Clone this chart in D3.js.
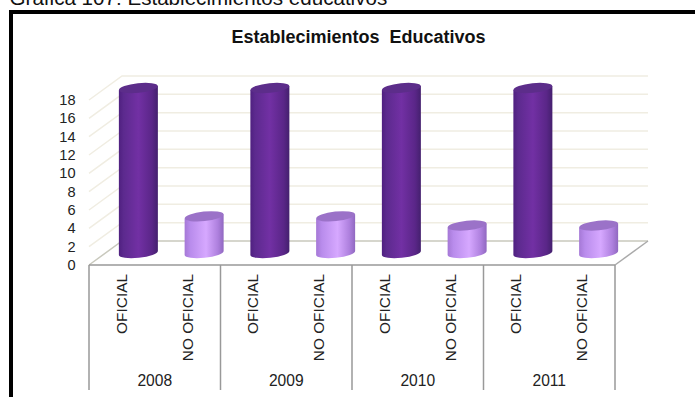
<!DOCTYPE html>
<html><head><meta charset="utf-8">
<script src="https://cdn.jsdelivr.net/npm/d3@7/dist/d3.min.js"></script>
<style>html,body{margin:0;padding:0;background:#fff}svg{display:block}text{font-family:"Liberation Sans",Arial,sans-serif}</style>
</head><body><div id="c"></div>
<script>
const years = ["2008","2009","2010","2011"];
const types = ["OFICIAL","NO OFICIAL"];
const values = [18,4,18,4,18,3,18,3];
const yTicks = [0,2,4,6,8,10,12,14,16,18];
const pageTitle = "Gráfica 107: Establecimientos educativos";
const chartTitle = "Establecimientos  Educativos";

const W=695,H=397;
const svg=d3.select("#c").append("svg").attr("width",W).attr("height",H);
const defs=svg.append("defs");
function grad(id,stops){
  const g=defs.append("linearGradient").attr("id",id);
  stops.forEach(([o,c])=>g.append("stop").attr("offset",o).attr("stop-color",c));
}
grad("dark",[[0,"#4f2080"],[0.12,"#5c2a8e"],[0.5,"#7230a4"],[0.85,"#5a2688"],[1,"#44206e"]]);
grad("light",[[0,"#a578d6"],[0.15,"#b98cec"],[0.55,"#d6a8ff"],[0.85,"#ae80de"],[1,"#9068c0"]]);

svg.append("text").attr("x",9.5).attr("y",5).attr("font-size",20.6).attr("fill","#111").text(pageTitle);
svg.append("rect").attr("x",11).attr("y",12).attr("width",W+20).attr("height",H+20).attr("fill","#fff").attr("stroke","#000").attr("stroke-width",4);
svg.append("text").attr("x",358.5).attr("y",43).attr("text-anchor","middle").attr("font-size",18).attr("font-weight","bold").attr("fill","#111").style("white-space","pre").text(chartTitle);

const x0=89,x1=615,dx=33,dy=24,y0=265,y18=100;
const y=d3.scaleLinear().domain([0,18]).range([y0,y18]);
const x=d3.scaleBand().domain(d3.range(values.length)).range([x0,x1]);
const yearX=d3.scaleBand().domain(years).range([x0,x1]);

// grid
yTicks.forEach(t=>{
  const c=t===0?"#c9c9bd":"#f0ede2";
  svg.append("path").attr("fill","none").attr("stroke",c).attr("stroke-width",1.5)
   .attr("d",`M${x0},${y(t)}L${x0+dx},${y(t)-dy}L${x1+dx},${y(t)-dy}`);
  svg.append("text").attr("x",75.5).attr("y",y(t)+5).attr("text-anchor","end").attr("font-size",14.6).attr("fill","#222").text(t);
});
// floor right edge
svg.append("path").attr("fill","none").attr("stroke","#aaa").attr("stroke-width",1.5).attr("d",`M${x1},${y0}L${x1+dx},${y0-dy}`);

// axis box
const axisG=svg.append("g").attr("stroke","#999").attr("stroke-width",1.5).attr("fill","none");
axisG.append("path").attr("d",`M${x0},${y0}H${x1}`);
years.concat(["end"]).forEach((yr,i)=>{
  const xx=x0+i*yearX.step();
  axisG.append("path").attr("d",`M${xx},${y0}V390`);
});
years.forEach(yr=>{
  svg.append("text").attr("x",yearX(yr)+yearX.bandwidth()/2).attr("y",386).attr("text-anchor","middle").attr("font-size",15.6).attr("fill","#222").text(yr);
});
values.forEach((v,i)=>{
  const cx=x(i)+x.bandwidth()/2;
  const ty=types[i%2];
  svg.append("text").attr("transform",`translate(${cx+5},${y0+9}) rotate(-90)`).attr("text-anchor","end").attr("font-size",15.4).attr("fill","#222").text(ty);
});

// cylinders
const rx=19.5,ry=4.8,tilt=-6;
values.forEach((v,i)=>{
  const cx=x(i)+x.bandwidth()/2+dx/2;
  const base=y(0)-12;
  const top=y(v)-12;
  const dark=i%2===0;
  const g=svg.append("g");
  const tr=Math.tan(tilt*Math.PI/180)*rx;
  g.append("path").attr("fill",`url(#${dark?"dark":"light"})`)
   .attr("d",`M${cx-rx},${top-tr}L${cx-rx},${base-tr}A${rx},${ry} ${tilt} 0 0 ${cx+rx},${base+tr}L${cx+rx},${top+tr}Z`);
  g.append("ellipse").attr("cx",cx).attr("cy",top).attr("rx",rx).attr("ry",ry).attr("transform",`rotate(${tilt} ${cx} ${top})`).attr("fill",dark?"#5c2d8a":"#9b72c8");
});
</script></body></html>
